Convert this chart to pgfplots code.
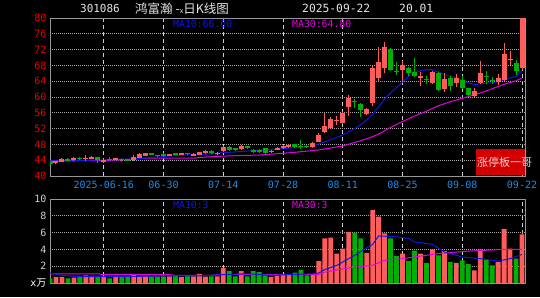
\documentclass[border=0pt]{standalone}
\usepackage{pgfplots}
\pgfplotsset{compat=1.18}
\usepackage{pgfplotstable}
\usepackage{fontspec}
\setmainfont{DejaVu Sans Mono}
\newfontfamily\cjk{Noto Sans CJK SC}
\definecolor{candred}{RGB}{255,92,92}
\definecolor{candgreen}{RGB}{0,176,0}
\definecolor{mablue}{RGB}{20,20,230}
\definecolor{mamag}{RGB}{230,0,230}
\definecolor{framegray}{RGB}{150,150,150}
\definecolor{gridgray}{RGB}{165,165,165}
\definecolor{vgrid}{RGB}{205,205,205}
\definecolor{datecol}{RGB}{30,140,230}
\definecolor{ticred}{RGB}{235,0,0}
\definecolor{badge}{RGB}{210,0,0}
\definecolor{voltick}{RGB}{205,205,205}

% volume (10k lots) by day index, split by candle colour
\pgfplotstableread{
i v
1 0.70
2 0.70
4 0.65
6 0.90
7 0.70
9 0.80
11 0.80
14 1.10
15 0.80
16 0.80
20 0.80
22 0.70
24 0.80
25 1.10
26 0.75
28 0.80
29 1.80
32 1.40
37 0.72
38 0.84
39 1.10
40 1.00
44 1.00
45 2.60
46 5.30
47 5.40
48 3.50
49 4.10
50 6.10
53 3.60
54 8.70
55 7.90
56 5.90
59 3.50
62 3.50
64 4.00
66 3.80
68 2.40
71 1.50
72 4.00
75 2.50
76 6.40
77 4.10
79 5.80
}\redvol

\pgfplotstableread{
i v
0 0.55
3 0.55
5 0.80
8 0.80
10 0.55
12 0.80
13 0.80
17 0.80
18 0.80
19 0.80
21 0.90
23 0.90
27 0.80
30 1.40
31 0.80
33 0.80
34 1.40
35 1.30
36 0.90
41 1.25
42 1.52
43 0.92
51 6.00
52 5.30
57 5.30
58 3.20
60 2.64
61 3.84
63 2.40
65 3.30
67 2.50
69 2.70
70 2.24
73 2.80
74 2.10
78 2.90
}\greenvol

% candle bodies (open -> close) and wicks (low -> high), segments separated by nan rows
\pgfplotstableread[row sep=\\]{
i p\\
1 43.3\\ 1 43.7\\ nan nan\\
2 43.6\\ 2 44.4\\ nan nan\\
4 44.0\\ 4 44.6\\ nan nan\\
6 44.3\\ 6 44.6\\ nan nan\\
7 44.4\\ 7 44.9\\ nan nan\\
9 43.5\\ 9 44.1\\ nan nan\\
11 44.1\\ 11 44.5\\ nan nan\\
14 44.1\\ 14 44.9\\ nan nan\\
15 44.6\\ 15 45.5\\ nan nan\\
16 45.1\\ 16 45.8\\ nan nan\\
20 45.1\\ 20 45.5\\ nan nan\\
22 45.3\\ 22 45.8\\ nan nan\\
24 45.1\\ 24 45.6\\ nan nan\\
25 45.4\\ 25 46.0\\ nan nan\\
26 45.7\\ 26 46.3\\ nan nan\\
28 45.5\\ 28 45.9\\ nan nan\\
29 46.3\\ 29 47.4\\ nan nan\\
32 46.8\\ 32 47.7\\ nan nan\\
37 46.0\\ 37 46.4\\ nan nan\\
38 46.7\\ 38 47.2\\ nan nan\\
39 47.0\\ 39 47.6\\ nan nan\\
40 47.3\\ 40 47.8\\ nan nan\\
44 47.3\\ 44 48.4\\ nan nan\\
45 48.7\\ 45 50.4\\ nan nan\\
46 51.2\\ 46 52.7\\ nan nan\\
47 52.2\\ 47 54.5\\ nan nan\\
48 53.8\\ 48 54.1\\ nan nan\\
49 53.4\\ 49 55.9\\ nan nan\\
50 57.4\\ 50 59.7\\ nan nan\\
53 55.7\\ 53 57.0\\ nan nan\\
54 58.6\\ 54 67.3\\ nan nan\\
55 64.7\\ 55 68.8\\ nan nan\\
56 67.3\\ 56 72.6\\ nan nan\\
59 66.8\\ 59 68.1\\ nan nan\\
62 64.7\\ 62 65.3\\ nan nan\\
64 63.6\\ 64 66.4\\ nan nan\\
66 62.0\\ 66 64.5\\ nan nan\\
68 63.6\\ 68 64.9\\ nan nan\\
71 60.3\\ 71 61.6\\ nan nan\\
72 63.6\\ 72 66.2\\ nan nan\\
75 63.9\\ 75 64.7\\ nan nan\\
76 64.3\\ 76 70.9\\ nan nan\\
77 69.3\\ 77 69.7\\ nan nan\\
79 67.3\\ 79 80.0\\ nan nan\\
}\redbody

\pgfplotstableread[row sep=\\]{
i p\\
1 43.1\\ 1 43.8\\ nan nan\\
2 43.5\\ 2 44.6\\ nan nan\\
4 43.9\\ 4 44.8\\ nan nan\\
6 43.9\\ 6 45.3\\ nan nan\\
7 44.3\\ 7 45.1\\ nan nan\\
9 43.3\\ 9 44.2\\ nan nan\\
11 44.0\\ 11 44.6\\ nan nan\\
14 43.8\\ 14 45.2\\ nan nan\\
15 44.5\\ 15 45.7\\ nan nan\\
16 45.0\\ 16 45.9\\ nan nan\\
20 45.0\\ 20 45.6\\ nan nan\\
22 45.2\\ 22 45.9\\ nan nan\\
24 45.0\\ 24 45.7\\ nan nan\\
25 45.3\\ 25 46.2\\ nan nan\\
26 45.5\\ 26 46.5\\ nan nan\\
28 45.4\\ 28 46.0\\ nan nan\\
29 46.1\\ 29 47.6\\ nan nan\\
32 46.6\\ 32 47.8\\ nan nan\\
37 45.9\\ 37 46.5\\ nan nan\\
38 46.5\\ 38 47.4\\ nan nan\\
39 46.8\\ 39 47.8\\ nan nan\\
40 47.1\\ 40 48.0\\ nan nan\\
44 47.1\\ 44 48.6\\ nan nan\\
45 48.5\\ 45 50.8\\ nan nan\\
46 50.9\\ 46 55.9\\ nan nan\\
47 51.9\\ 47 55.0\\ nan nan\\
48 52.9\\ 48 55.2\\ nan nan\\
49 53.1\\ 49 56.2\\ nan nan\\
50 55.2\\ 50 60.5\\ nan nan\\
53 55.4\\ 53 57.2\\ nan nan\\
54 57.8\\ 54 67.8\\ nan nan\\
55 63.9\\ 55 72.7\\ nan nan\\
56 66.1\\ 56 73.9\\ nan nan\\
59 63.9\\ 59 69.2\\ nan nan\\
62 62.9\\ 62 66.4\\ nan nan\\
64 63.3\\ 64 66.6\\ nan nan\\
66 61.3\\ 66 66.0\\ nan nan\\
68 62.5\\ 68 65.8\\ nan nan\\
71 60.0\\ 71 62.3\\ nan nan\\
72 63.3\\ 72 69.2\\ nan nan\\
75 63.1\\ 75 65.8\\ nan nan\\
76 64.0\\ 76 73.6\\ nan nan\\
77 68.1\\ 77 71.7\\ nan nan\\
79 66.8\\ 79 80.0\\ nan nan\\
}\redwick

\pgfplotstableread[row sep=\\]{
i p\\
0 43.7\\ 0 43.1\\ nan nan\\
3 44.4\\ 3 43.9\\ nan nan\\
5 44.6\\ 5 44.2\\ nan nan\\
8 44.7\\ 8 44.1\\ nan nan\\
10 44.4\\ 10 44.1\\ nan nan\\
12 44.4\\ 12 44.0\\ nan nan\\
13 44.2\\ 13 43.9\\ nan nan\\
17 45.7\\ 17 45.4\\ nan nan\\
18 45.3\\ 18 45.0\\ nan nan\\
19 45.6\\ 19 45.1\\ nan nan\\
21 45.7\\ 21 45.3\\ nan nan\\
23 45.8\\ 23 45.5\\ nan nan\\
27 46.3\\ 27 45.8\\ nan nan\\
30 47.4\\ 30 46.6\\ nan nan\\
31 47.0\\ 31 46.5\\ nan nan\\
33 47.6\\ 33 47.0\\ nan nan\\
34 46.7\\ 34 46.2\\ nan nan\\
35 46.5\\ 35 46.2\\ nan nan\\
36 47.0\\ 36 45.7\\ nan nan\\
41 48.0\\ 41 47.4\\ nan nan\\
42 47.7\\ 42 47.4\\ nan nan\\
43 47.7\\ 43 47.4\\ nan nan\\
51 59.0\\ 51 58.7\\ nan nan\\
52 58.2\\ 52 56.7\\ nan nan\\
57 72.1\\ 57 66.8\\ nan nan\\
58 66.7\\ 58 66.3\\ nan nan\\
60 67.3\\ 60 66.0\\ nan nan\\
61 66.4\\ 61 65.3\\ nan nan\\
63 64.5\\ 63 64.2\\ nan nan\\
65 66.0\\ 65 61.8\\ nan nan\\
67 64.7\\ 67 62.8\\ nan nan\\
69 64.3\\ 69 62.2\\ nan nan\\
70 62.2\\ 70 60.5\\ nan nan\\
73 65.3\\ 73 65.0\\ nan nan\\
74 64.3\\ 74 64.0\\ nan nan\\
78 68.7\\ 78 66.7\\ nan nan\\
}\greenbody

\pgfplotstableread[row sep=\\]{
i p\\
0 42.9\\ 0 43.9\\ nan nan\\
3 43.7\\ 3 44.5\\ nan nan\\
5 44.0\\ 5 44.7\\ nan nan\\
8 43.4\\ 8 44.8\\ nan nan\\
10 43.8\\ 10 44.7\\ nan nan\\
12 43.6\\ 12 44.5\\ nan nan\\
13 43.7\\ 13 44.3\\ nan nan\\
17 45.2\\ 17 45.9\\ nan nan\\
18 44.7\\ 18 45.4\\ nan nan\\
19 44.9\\ 19 45.7\\ nan nan\\
21 45.2\\ 21 45.8\\ nan nan\\
23 45.3\\ 23 45.9\\ nan nan\\
27 45.6\\ 27 46.5\\ nan nan\\
30 46.3\\ 30 47.5\\ nan nan\\
31 46.3\\ 31 47.1\\ nan nan\\
33 46.8\\ 33 47.7\\ nan nan\\
34 45.8\\ 34 46.9\\ nan nan\\
35 45.9\\ 35 46.8\\ nan nan\\
36 45.5\\ 36 47.2\\ nan nan\\
41 47.2\\ 41 48.1\\ nan nan\\
42 46.8\\ 42 49.0\\ nan nan\\
43 47.2\\ 43 47.8\\ nan nan\\
51 57.2\\ 51 59.5\\ nan nan\\
52 55.0\\ 52 58.6\\ nan nan\\
57 66.5\\ 57 72.3\\ nan nan\\
58 65.6\\ 58 68.9\\ nan nan\\
60 65.4\\ 60 67.7\\ nan nan\\
61 65.1\\ 61 69.8\\ nan nan\\
63 63.2\\ 63 65.4\\ nan nan\\
65 61.4\\ 65 66.4\\ nan nan\\
67 61.5\\ 67 65.3\\ nan nan\\
69 61.9\\ 69 65.2\\ nan nan\\
70 60.2\\ 70 62.4\\ nan nan\\
73 63.3\\ 73 66.7\\ nan nan\\
74 63.4\\ 74 65.0\\ nan nan\\
78 65.5\\ 78 69.3\\ nan nan\\
}\greenwick

\pgfplotstableread{
i v
0 43.8
3 43.8
8 44.05
14 44.3
18 44.8
22 45.3
25 45.4
29 45.9
33 46.3
38 46.8
43 47.4
45 48.1
47 49.2
49 50.4
50 51.2
51 52.0
52 53.0
53 54.2
54 55.6
55 57.5
56 59.5
57 61.0
58 62.4
59 63.8
60 65.2
61 66.1
62 66.7
63 66.9
64 66.9
65 66.3
66 65.7
67 65.2
68 64.8
69 64.2
70 63.6
71 63.1
72 63.3
73 63.5
74 63.6
75 63.9
76 64.3
77 64.8
78 65.2
79 66.6
}\pmaten

\pgfplotstableread{
i v
0 43.8
8 43.9
12 44.1
16 44.5
24 44.5
26 44.8
30 45.1
35 45.3
41 46.0
45 46.6
49 47.6
53 49.4
55 50.6
57 52.3
59 53.8
61 55.2
63 56.4
65 57.8
67 58.8
70 60.1
72 61.0
74 62.1
76 63.2
78 64.1
79 64.8
}\pmathirty

\pgfplotstableread{
i v
0 1.2
2 0.9
5 0.75
10 0.75
15 0.8
20 0.85
25 0.85
29 1.0
33 1.1
37 0.92
40 1.0
44 1.1
45 1.2
46 1.6
48 2.1
50 2.9
51 3.3
53 4.2
54 4.6
55 5.6
58 5.5
60 5.3
61 4.9
64 4.6
66 3.7
69 3.1
72 2.9
75 2.6
77 2.9
79 3.4
}\vmaten

\pgfplotstableread{
i v
0 1.1
8 1.1
9 1.0
20 1.0
21 0.9
27 0.9
28 1.0
45 1.0
46 1.3
50 1.8
54 2.1
56 2.7
59 2.9
65 3.5
70 3.8
76 4.0
79 4.0
}\vmathirty

\pgfplotsset{
  kchart/.style={
    scale only axis, anchor=south west,
    xmin=0, xmax=79.5,
    axis line style={framegray, line width=0.9pt},
    major tick length=0pt,
    xtick={9,19,29,39,49,59,69,79},
    xmajorgrids, ymajorgrids,
    x grid style={vgrid, line width=0.8pt, dash pattern=on 4pt off 3pt},
    y grid style={gridgray, line width=0.8pt, dash pattern=on 1pt off 1pt},
    tick label style={font=\fontsize{10}{12}\selectfont},
    /pgf/number format/assume math mode=true,
    clip=true,
  },
  seg/.style 2 args={draw=#1, solid, line width=#2, line cap=butt, mark=none,
    unbounded coords=jump, forget plot},
}

\begin{document}
\begin{tikzpicture}[x=1pt,y=1pt]
\fill[black] (0,0) rectangle (540,297);
\path[use as bounding box] (0,0) rectangle (540,297);

% ---------- price panel ----------
\begin{axis}[kchart,
  at={(50pt,121pt)}, width=475pt, height=158pt,
  ymin=40, ymax=80, ytick={40,44,...,80},
  xticklabels={2025-06-16,06-30,07-14,07-28,08-11,08-25,09-08,09-22},
  xticklabel style={datecol, anchor=north, inner sep=0pt, yshift=-4.5pt},
  yticklabel style={ticred, anchor=east, inner sep=0pt, xshift=-3.5pt},
]
\addplot[mamag, line width=1pt, mark=none] table[x=i, y=v] {\pmathirty};
\addplot[mablue, line width=1pt, mark=none] table[x=i, y=v] {\pmaten};
\addplot[seg={candred}{1pt}] table[x=i, y=p] {\redwick};
\addplot[seg={candred}{5pt}] table[x=i, y=p] {\redbody};
\addplot[seg={candgreen}{1pt}] table[x=i, y=p] {\greenwick};
\addplot[seg={candgreen}{5pt}] table[x=i, y=p] {\greenbody};
\end{axis}

% ---------- volume panel ----------
\begin{axis}[kchart,
  at={(50pt,14pt)}, width=475pt, height=84pt,
  ymin=0, ymax=10, ytick={0,2,...,10},
  yticklabels={{\textcolor{white}{x\cjk 万}},2,4,6,8,10},
  xticklabels={},
  yticklabel style={voltick, anchor=east, inner sep=0pt, xshift=-3.5pt},
]
\addplot[ybar, bar width=4.8pt, bar shift=0pt, fill=candred, draw=none] table[x=i, y=v] {\redvol};
\addplot[ybar, bar width=4.8pt, bar shift=0pt, fill=candgreen, draw=none] table[x=i, y=v] {\greenvol};
\addplot[mamag, line width=1pt, mark=none] table[x=i, y=v] {\vmathirty};
\addplot[mablue, line width=1pt, mark=none] table[x=i, y=v] {\vmaten};
\end{axis}

% ---------- texts ----------
\node[text=white!90!black, font=\fontsize{11}{12}\selectfont, anchor=center] at (100,288.5) {301086};
\node[text=white!90!black, anchor=west, inner sep=0pt] at (135,288.5) {\cjk\fontsize{12.5}{13}\selectfont 鸿富瀚 -{\fontsize{7}{7}\selectfont x}日K线图};
\node[text=white!90!black, font=\fontsize{11.3}{12}\selectfont, anchor=west, inner sep=0pt] at (302,288.5) {2025-09-22};
\node[text=white!90!black, font=\fontsize{11.3}{12}\selectfont, anchor=west, inner sep=0pt] at (399,288.5) {20.01};

\node[text=mablue, font=\fontsize{9.8}{10}\selectfont, anchor=west, inner sep=0pt] at (173,273.5) {MA10:66.60};
\node[text=mamag, font=\fontsize{9.8}{10}\selectfont, anchor=west, inner sep=0pt] at (292,273.5) {MA30:64.80};
\node[text=mablue, font=\fontsize{9.8}{10}\selectfont, anchor=west, inner sep=0pt] at (173,92.5) {MA10:3};
\node[text=mamag, font=\fontsize{9.8}{10}\selectfont, anchor=west, inner sep=0pt] at (292,92.5) {MA30:3};

\fill[badge] (476,122) rectangle (525,148);
\node[text={rgb,255:red,245;green,205;blue,205}, anchor=west, inner sep=0pt] at (477,134.5) {\cjk\fontsize{11}{12}\selectfont 涨停板一哥};
\end{tikzpicture}
\end{document}
